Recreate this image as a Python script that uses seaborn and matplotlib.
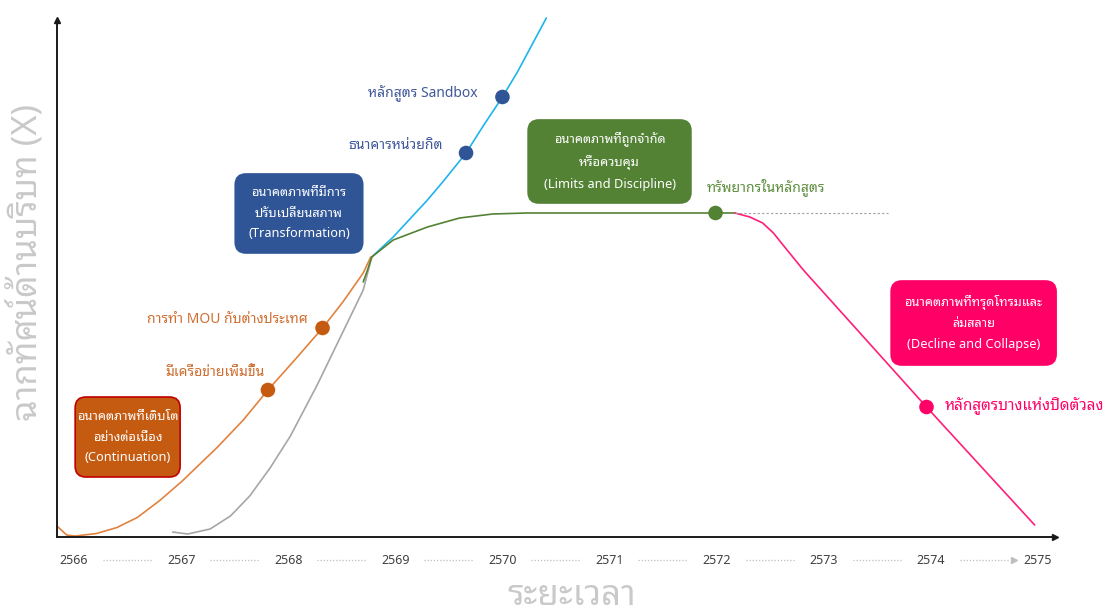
import matplotlib
matplotlib.use("Agg")
import matplotlib.pyplot as plt
import matplotlib.transforms as mtransforms
from matplotlib.patches import FancyBboxPatch
import pandas as pd
import seaborn as sns

# ---- data (year, level) ----
years = [2566, 2567, 2568, 2569, 2570, 2571, 2572, 2573, 2574, 2575]

cont_x = [2565.84, 2565.93, 2566.01, 2566.21, 2566.40, 2566.59, 2566.80, 2567.01, 2567.34,
          2567.58, 2567.81, 2568.06, 2568.32, 2568.51, 2568.70, 2568.77]
cont_y = [2.2, 0.4, 0.2, 0.7, 1.9, 3.9, 7.3, 11.2, 18.0,
          23.4, 29.4, 35.4, 41.8, 47.0, 52.8, 56.0]

base_x = [2566.92, 2567.06, 2567.27, 2567.46, 2567.64, 2567.83, 2568.02, 2568.27, 2568.51, 2568.70, 2568.78]
base_y = [1.0, 0.6, 1.6, 4.2, 8.2, 13.8, 20.2, 30.4, 41.0, 49.4, 56.0]

trans_x = [2568.78, 2568.98, 2569.30, 2569.45, 2569.66, 2569.82, 2570.00, 2570.14, 2570.26, 2570.41]
trans_y = [56.0, 60.0, 67.4, 71.2, 76.8, 82.2, 88.0, 93.0, 97.8, 103.8]

limit_x = [2568.70, 2568.74, 2568.78, 2568.98, 2569.30, 2569.60, 2569.91, 2570.23, 2570.60, 2571.99, 2572.17]
limit_y = [51.0, 53.4, 56.0, 59.4, 62.0, 63.8, 64.6, 64.8, 64.8, 64.8, 64.8]

decl_x = [2572.17, 2572.31, 2572.43, 2572.53, 2572.62, 2572.81, 2573.96, 2574.97]
decl_y = [64.8, 64.0, 62.8, 60.8, 58.4, 53.4, 26.0, 2.4]

plateau_x = [2572.17, 2573.60]
plateau_y = [64.8, 64.8]

# events on the curves
ev_labels = ["มีเครือข่ายเพิ่มขึ้น", "การทำ MOU กับต่างประเทศ", "ธนาคารหน่วยกิต",
             "หลักสูตร Sandbox", "ทรัพยากรในหลักสูตร", "หลักสูตรบางแห่งปิดตัวลง"]
ev_x = [2567.81, 2568.32, 2569.66, 2570.00, 2571.99, 2573.96]
ev_y = [29.4, 41.8, 76.8, 88.0, 64.8, 26.0]
ev_group = ["cont", "cont", "trans", "trans", "limit", "decl"]

scenarios = ["อนาคตภาพที่เติบโต\nอย่างต่อเนื่อง\n(Continuation)",
             "อนาคตภาพที่มีการ\nปรับเปลี่ยนสภาพ\n(Transformation)",
             "อนาคตภาพที่ถูกจำกัด\nหรือควบคุม\n(Limits and Discipline)",
             "อนาคตภาพที่ทรุดโทรมและ\nล่มสลาย\n(Decline and Collapse)"]

# ---- style ----
sns.set_theme(style="white")
thai = ["Noto Sans Thai Looped", "Noto Sans", "DejaVu Sans"]
plt.rcParams["font.family"] = thai

line_col = {"cont": "#E2823F", "base": "#A6A6A6", "trans": "#1FB4EC", "limit": "#548235", "decl": "#FF1F78"}
dot_col = {"cont": "#C55A11", "trans": "#2F5597", "limit": "#548235", "decl": "#FF0066"}
txt_col = {"cont": "#CF6E31", "trans": "#41599A", "limit": "#5E8E3E", "decl": "#FF0066"}

fig = plt.figure(figsize=(11.06, 6.11), dpi=100)
ax = fig.add_axes([0.0515, 0.1211, 0.9024, 0.8462])

curves = [("base", base_x, base_y), ("cont", cont_x, cont_y), ("trans", trans_x, trans_y),
          ("limit", limit_x, limit_y), ("decl", decl_x, decl_y)]
for key, xs, ys in curves:
    sns.lineplot(x=xs, y=ys, sort=False, color=line_col[key], lw=1.2, ax=ax, clip_on=False)

ax.plot(plateau_x, plateau_y, ls=(0, (2, 2)), color="#9E9E9E", lw=0.8)

ev = pd.DataFrame({"x": ev_x, "y": ev_y, "g": ev_group})
sns.scatterplot(data=ev, x="x", y="y", hue="g", palette=dot_col, s=110,
                edgecolor="none", legend=False, ax=ax, zorder=5)

# event labels
lab_pos = [(2567.78, 32.8, "right"), (2568.18, 43.4, "right"), (2569.44, 78.2, "right"),
           (2569.77, 88.6, "right"), (2571.91, 70.0, "left"), (2574.13, 26.4, "left")]
for text, g, (lx, ly, ha) in zip(ev_labels, ev_group, lab_pos):
    fs = 11 if g == "decl" else 10
    ax.text(lx, ly, text, ha=ha, va="center", fontsize=fs, color=txt_col[g])

# scenario boxes (centre x, centre y, width, height)
box_geo = [(2566.50, 20.0, 0.98, 16.0), (2568.10, 64.7, 1.19, 15.8),
           (2571.00, 75.1, 1.52, 16.6), (2574.40, 42.8, 1.54, 16.8)]
box_fill = ["#C55A11", "#2F5597", "#548235", "#FF0066"]
box_edge = ["#C00000", "#2F5597", "#548235", "#FF0066"]
aspect = (517 / 103.4) / (998 / 9.32)
for text, (cx, cy, w, h), fc, ec in zip(scenarios, box_geo, box_fill, box_edge):
    patch = FancyBboxPatch((cx - w / 2, cy - h / 2), w, h,
                           boxstyle="round,pad=0,rounding_size=0.1",
                           mutation_aspect=1 / aspect, fc=fc, ec=ec, lw=1.2,
                           zorder=6, clip_on=False)
    ax.add_patch(patch)
    ax.text(cx, cy, text, ha="center", va="center", color="white", fontsize=9.2,
            fontweight="semibold", linespacing=1.75, zorder=7)

# axes
ax.set_xlim(2565.84, 2575.16)
ax.set_ylim(0, 103.4)
ax.set_xticks([])
ax.set_yticks([])
ax.set_xlabel("")
ax.set_ylabel("")
for side in ["top", "right"]:
    ax.spines[side].set_visible(False)
for side in ["left", "bottom"]:
    ax.spines[side].set_color("#1A1A1A")
    ax.spines[side].set_linewidth(1.4)
ax.plot(1, 0, ">", color="#1A1A1A", ms=5, transform=ax.transAxes, clip_on=False)
ax.plot(0, 1, "^", color="#1A1A1A", ms=5, transform=ax.transAxes, clip_on=False)

# year labels with dotted separators
tr = mtransforms.blended_transform_factory(ax.transData, ax.transAxes)
for i, yr in enumerate(years):
    ax.text(yr, -0.0445, str(yr), transform=tr, ha="center", va="center",
            fontsize=9, color="#404040", family=["Noto Sans", "DejaVu Sans"])
    if i < len(years) - 1:
        ax.plot([yr + 0.27, yr + 0.73], [-0.0445, -0.0445], transform=tr,
                ls=(0, (1, 1.5)), color="#BFBFBF", lw=0.9, clip_on=False)
ax.plot(years[-1] - 0.22, -0.0445, ">", color="#BFBFBF", ms=4, transform=tr, clip_on=False)

fig.text(0.517, 0.025, "ระยะเวลา", ha="center", va="center", fontsize=25,
         color="#C9C9C9", fontweight="light")
fig.text(0.024, 0.571, "ฉากทัศน์ด้านบริบท (X)", ha="center", va="center", rotation=90,
         fontsize=25, color="#C9C9C9", fontweight="light")

fig.savefig("out.png", dpi=100)
